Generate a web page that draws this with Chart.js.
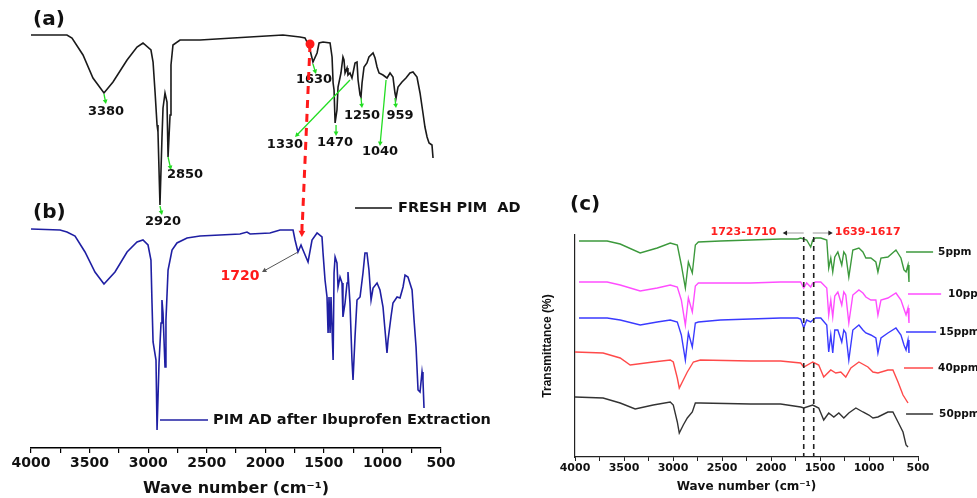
<!DOCTYPE html>
<html>
<head>
<meta charset="utf-8">
<script src="https://cdn.jsdelivr.net/npm/chart.js@4.4.0/dist/chart.umd.min.js"></script>
<style>
html, body { margin: 0; padding: 0; background: #fff; }
#wrap { position: relative; width: 977px; height: 498px; overflow: hidden; }
#left { position: absolute; left: 0; top: 0; }
#right { position: absolute; left: 480px; top: 0; }
</style>
</head>
<body>
<div id="wrap">
  <canvas id="left" width="560" height="498"></canvas>
  <canvas id="right" width="497" height="498"></canvas>
</div>
<script>
// (a) fresh PIM AD
const waveA = [4000, 3693, 3650, 3556, 3471, 3377, 3300, 3180, 3095, 3044, 2976, 2958, 2941, 2924, 2916, 2899, 2882, 2873, 2856, 2839, 2830, 2813, 2805, 2788, 2728, 2557, 2276, 1849, 1704, 1661, 1644, 1618, 1593, 1558, 1541, 1507, 1447, 1430, 1421, 1413, 1404, 1388, 1379, 1354, 1337, 1328, 1319, 1302, 1294, 1277, 1260, 1251, 1234, 1217, 1208, 1191, 1183, 1174, 1157, 1132, 1115, 1080, 1063, 1046, 1029, 995, 961, 935, 910, 893, 884, 867, 833, 799, 765, 739, 705, 679, 654, 637, 619, 602, 577, 568];
const transA = [103.25, 103.25, 102.5, 98.25, 92.5, 88.75, 91.5, 97, 100.25, 101.25, 99.5, 96.5, 89, 80.75, 79, 60.75, 77.5, 85, 88.75, 86.5, 72.75, 83.25, 95.75, 100.75, 102, 102, 102.5, 103.25, 102.75, 102.5, 101.5, 99.5, 96.5, 98.75, 101.25, 101.5, 101.25, 97.75, 91.25, 89.5, 81.25, 84.5, 90.25, 93.75, 97.75, 97, 93.75, 95, 93.25, 93.75, 92.5, 93.75, 96.25, 96.5, 92, 88.25, 87.75, 91.25, 95.25, 96.25, 97.75, 98.75, 97.5, 95.25, 93.75, 93.25, 92.5, 93.75, 92.75, 88.75, 87.5, 90.25, 91.5, 92.5, 93.75, 94, 92.75, 88.75, 83.75, 80.25, 77.75, 76.25, 75.75, 72.5];

// (b) PIM AD after ibuprofen extraction
const waveB = [4000, 3752, 3693, 3624, 3539, 3454, 3377, 3283, 3180, 3095, 3044, 3001, 2976, 2967, 2958, 2933, 2924, 2907, 2890, 2882, 2873, 2856, 2848, 2830, 2796, 2754, 2668, 2557, 2216, 2156, 2130, 1960, 1874, 1763, 1746, 1721, 1695, 1678, 1635, 1601, 1558, 1516, 1507, 1490, 1473, 1464, 1456, 1447, 1439, 1421, 1413, 1404, 1388, 1379, 1362, 1345, 1337, 1319, 1302, 1294, 1277, 1260, 1251, 1234, 1217, 1191, 1166, 1149, 1132, 1115, 1097, 1080, 1046, 1021, 995, 978, 961, 952, 927, 910, 875, 850, 824, 807, 782, 747, 730, 713, 696, 679, 662, 654, 645];
const transB = [54.75, 54.5, 54, 53, 49, 44, 41, 44, 49, 51.5, 52, 50.75, 47, 36.25, 26.5, 22, 4.5, 21.25, 31.25, 37, 33.75, 20.25, 32, 44.5, 49.5, 51.25, 52.5, 53, 53.5, 54, 53.5, 53.75, 54.5, 54.5, 52, 49, 50.75, 49.5, 46.5, 52, 53.75, 52.75, 48.75, 42, 37.75, 28.75, 37.75, 28.75, 37.75, 22, 43.75, 47.75, 46.25, 40.25, 42.75, 41.25, 32.75, 36.25, 41.25, 44, 36.25, 22, 17, 27.75, 37, 37.75, 43.75, 48.75, 48.75, 44.5, 37, 40, 41.25, 39.5, 35.25, 29.5, 23.75, 27, 32.75, 36.25, 37.75, 37.5, 40.25, 43.25, 42.75, 39.5, 32, 25.25, 14.5, 14, 19, 17, 10];

// (c) spectra after contact with 5-50 ppm
const waveLow = [3959, 3672, 3539, 3335, 3161, 3028, 2956, 2915, 2874, 2843, 2803, 2772, 2741, 2516, 2209, 1902, 1728, 1697, 1666, 1636, 1595, 1574, 1544, 1492, 1431, 1411, 1390, 1370, 1349, 1318, 1278, 1257, 1237, 1206, 1165, 1103, 1062, 1032, 981, 930, 909, 878, 807, 725, 674, 643, 622, 602, 592];
const trans5 = [108, 108, 106.5, 102, 104.5, 107, 106, 96, 84.5, 97.5, 92, 106, 107.5, 108, 108.5, 109, 109, 109.5, 109, 108.5, 105, 108.5, 109.5, 109.5, 108.5, 94.5, 99.5, 92.5, 100, 102.5, 96, 102.5, 101, 90, 103.5, 104.5, 102.5, 99.5, 99.5, 97.5, 92.5, 99.5, 100, 103.5, 99.5, 93.5, 92.5, 96, 87.5];
const trans10 = [87.5, 87.5, 86, 83, 84.5, 86, 85, 78.5, 66, 79.5, 72.5, 85.5, 87, 87, 87, 87.5, 87.5, 87.5, 84.5, 87, 85, 87, 87.5, 87.5, 84.5, 71, 78.5, 70, 80.5, 82.5, 76, 82.5, 81, 67, 81, 83.5, 82, 80, 78.5, 78.5, 71, 78.5, 79.5, 82, 78.5, 74, 71, 74.5, 67];
const trans15 = [69.5, 69.5, 68.5, 66, 67.5, 68.5, 67.5, 61, 48.5, 62, 55, 67, 67.5, 68.5, 69, 69.5, 69.5, 69, 64.5, 68.5, 67.5, 68.5, 69.5, 69.5, 66, 52.5, 61, 52, 63.5, 63.5, 57.5, 63.5, 62, 48.5, 63.5, 66, 63.5, 62, 61, 59.5, 52, 59.5, 62, 64.5, 61, 56, 53.5, 58.5, 52];
const wave40 = [4000, 3713, 3539, 3437, 3202, 3028, 2997, 2956, 2936, 2895, 2854, 2792, 2721, 2209, 1902, 1697, 1666, 1574, 1513, 1462, 1390, 1339, 1288, 1237, 1185, 1103, 1011, 960, 909, 807, 756, 704, 653, 602];
const trans40 = [52.5, 52, 49.5, 46, 47.5, 48.5, 47.5, 39.5, 34.5, 38.5, 42.5, 47.5, 48.5, 48, 48, 47, 45, 47.5, 46, 40, 43.5, 42, 42.5, 40, 44.5, 47.5, 45, 42.5, 42, 43.5, 43.5, 37.5, 31, 27];
const wave50 = [4000, 3713, 3539, 3386, 3202, 3028, 2997, 2956, 2936, 2895, 2854, 2803, 2772, 2721, 2209, 1902, 1697, 1666, 1574, 1513, 1462, 1411, 1359, 1308, 1257, 1206, 1134, 1062, 1001, 960, 909, 807, 756, 704, 653, 622, 602];
const trans50 = [30, 29.5, 27, 24, 26, 27.5, 26, 17.5, 12, 16, 19.5, 22.5, 27, 27, 26.5, 26.5, 25, 24.5, 26, 24.5, 18.5, 22, 20, 22, 19.5, 22, 24.5, 22.5, 21, 19.5, 20, 22.5, 22.5, 17.5, 12.5, 6, 5];

const concLabels = ['5ppm', '10ppm', '15ppm', '40ppm', '50ppm'];
const concColors = ['#3c993c', '#ff4dff', '#3a3aff', '#ff4a4a', '#333333'];
const peakLabelsA = ['3380', '2920', '2850', '1630', '1330', '1470', '1250', '959', '1040'];

const FONT = '"DejaVu Sans", sans-serif';

function pts(xs, ys) {
    return xs.map((x, i) => ({ x: x, y: ys[i] }));
}

function arrow(ctx, a, b, color, lw, head) {
    const ang = Math.atan2(b[1] - a[1], b[0] - a[0]);
    ctx.save();
    ctx.strokeStyle = color;
    ctx.fillStyle = color;
    ctx.lineWidth = lw;
    ctx.beginPath();
    ctx.moveTo(a[0], a[1]);
    ctx.lineTo(b[0] - Math.cos(ang) * head * 0.7, b[1] - Math.sin(ang) * head * 0.7);
    ctx.stroke();
    ctx.beginPath();
    ctx.moveTo(b[0], b[1]);
    ctx.lineTo(b[0] - head * Math.cos(ang - 0.5), b[1] - head * Math.sin(ang - 0.5));
    ctx.lineTo(b[0] - head * Math.cos(ang + 0.5), b[1] - head * Math.sin(ang + 0.5));
    ctx.closePath();
    ctx.fill();
    ctx.restore();
}

function label(ctx, str, p, color, size, align) {
    ctx.save();
    ctx.fillStyle = color;
    ctx.font = 'bold ' + size + 'px ' + FONT;
    ctx.textAlign = align || 'center';
    ctx.textBaseline = 'middle';
    ctx.fillText(str, p[0], p[1]);
    ctx.restore();
}

function line(ctx, a, b, color, lw, dash) {
    ctx.save();
    ctx.strokeStyle = color;
    ctx.lineWidth = lw;
    if (dash) ctx.setLineDash(dash);
    ctx.beginPath();
    ctx.moveTo(a[0], a[1]);
    ctx.lineTo(b[0], b[1]);
    ctx.stroke();
    ctx.restore();
}

// peak markers for (a): arrow from the band down to its number
const peakMarksA = [
    { from: [3377, 88.5], to: [3360, 86], at: [3360, 84] },
    { from: [2899, 60.5], to: [2882, 58.25], at: [2873, 56.5] },
    { from: [2830, 72.75], to: [2805, 69.5], at: [2685, 68.25] },
    { from: [1593, 96], to: [1567, 93.5], at: [1584, 92] },
    { from: [1277, 92], to: [1746, 77.75], at: [1832, 75.75] },
    { from: [1396, 80.75], to: [1396, 78], at: [1405, 76.25] },
    { from: [1183, 87.5], to: [1174, 85], at: [1174, 83] },
    { from: [893, 87.5], to: [884, 85], at: [850, 83] },
    { from: [969, 92], to: [1021, 75.5], at: [1021, 74] }
];

const leftNotes = {
    id: 'leftNotes',
    afterDatasetsDraw(chart) {
        const ctx = chart.ctx;
        const x = chart.scales.x, y = chart.scales.y;
        const P = (w, t) => [x.getPixelForValue(w), y.getPixelForValue(t)];

        label(ctx, '(a)', P(3983, 107), '#111', 20, 'left');
        label(ctx, '(b)', P(3983, 58.75), '#111', 20, 'left');

        peakMarksA.forEach((m, i) => {
            arrow(ctx, P(m.from[0], m.from[1]), P(m.to[0], m.to[1]), '#22dd22', 1.3, 5);
            label(ctx, peakLabelsA[i], P(m.at[0], m.at[1]), '#111', 13);
        });

        // shift of the carbonyl band between (a) and (b)
        line(ctx, P(1618, 101), P(1684, 56), '#ff1a1a', 3, [8, 6]);
        arrow(ctx, P(1686, 56), P(1688, 52.75), '#ff1a1a', 3, 7);
        const dot = P(1618, 101);
        ctx.save();
        ctx.fillStyle = '#ff1a1a';
        ctx.beginPath();
        ctx.arc(dot[0], dot[1], 4.5, 0, Math.PI * 2);
        ctx.fill();
        ctx.restore();

        arrow(ctx, P(1721, 49), P(2028, 44), '#555', 1, 5);
        label(ctx, '1720', P(2216, 43), '#ff1a1a', 14);

        line(ctx, P(1234, 60), P(918, 60), '#111', 1.5);
        label(ctx, 'FRESH PIM  AD', P(867, 60), '#111', 14.5, 'left');
        line(ctx, P(2899, 7), P(2489, 7), '#1f1fa3', 1.5);
        label(ctx, 'PIM AD after Ibuprofen Extraction', P(2446, 7), '#111', 14.5, 'left');
    }
};

const legendC = [
    { from: 622, to: 346, y: 102.5, text: 295 },
    { from: 602, to: 264, y: 81.5, text: 193 },
    { from: 622, to: 315, y: 62.5, text: 285 },
    { from: 643, to: 346, y: 44.5, text: 295 },
    { from: 622, to: 346, y: 21.5, text: 285 }
];

const rightNotes = {
    id: 'rightNotes',
    afterDatasetsDraw(chart) {
        const ctx = chart.ctx;
        const x = chart.scales.x, y = chart.scales.y;
        const P = (w, t) => [x.getPixelForValue(w), y.getPixelForValue(t)];

        label(ctx, '(c)', P(4051, 126), '#111', 20, 'left');

        line(ctx, P(1666, 110), P(1666, 0), '#222', 1.6, [5, 4]);
        line(ctx, P(1564, 110), P(1564, 0), '#222', 1.6, [5, 4]);

        line(ctx, P(1666, 112), P(1860, 112), '#999', 1);
        arrow(ctx, P(1840, 112), P(1881, 112), '#222', 1, 5);
        label(ctx, '1723-1710', P(2281, 112.5), '#ff2020', 11);
        line(ctx, P(1574, 112), P(1395, 112), '#999', 1);
        arrow(ctx, P(1410, 112), P(1370, 112), '#222', 1, 5);
        label(ctx, '1639-1617', P(1349, 112.5), '#ff2020', 11, 'left');

        legendC.forEach((e, i) => {
            line(ctx, P(e.from, e.y), P(e.to, e.y), concColors[i], 1.5);
            label(ctx, concLabels[i], P(e.text, e.y), '#111', 10.5, 'left');
        });
    }
};

const leftChart = new Chart(document.getElementById('left'), {
    type: 'line',
    data: {
        datasets: [
            { data: pts(waveA, transA), borderColor: '#1a1a1a', borderWidth: 1.6, pointRadius: 0, tension: 0 },
            { data: pts(waveB, transB), borderColor: '#1f1fa3', borderWidth: 1.6, pointRadius: 0, tension: 0 }
        ]
    },
    options: {
        responsive: false,
        animation: false,
        events: [],
        layout: { padding: { left: 31, right: 119, top: 20, bottom: 0 } },
        plugins: { legend: { display: false }, tooltip: { enabled: false } },
        scales: {
            x: {
                type: 'linear',
                reverse: true,
                min: 500,
                max: 4000,
                afterFit: (s) => { s.height = 50; },
                border: { color: '#000', width: 1.5 },
                grid: { drawOnChartArea: false, tickLength: 5, color: '#000', lineWidth: 1.2 },
                ticks: {
                    stepSize: 250,
                    autoSkip: false,
                    maxRotation: 0,
                    padding: 2,
                    color: '#111',
                    font: { family: FONT, size: 14, weight: 'bold' },
                    callback: (v) => (v % 500 === 0 ? v : '')
                },
                title: {
                    display: true,
                    text: 'Wave number (cm⁻¹)',
                    color: '#111',
                    padding: 0,
                    font: { family: FONT, size: 16, weight: 'bold' }
                }
            },
            y: { display: false, min: 0, max: 107 }
        }
    },
    plugins: [leftNotes]
});

const rightSeries = [
    pts(waveLow, trans5),
    pts(waveLow, trans10),
    pts(waveLow, trans15),
    pts(wave40, trans40),
    pts(wave50, trans50)
];

const rightChart = new Chart(document.getElementById('right'), {
    type: 'line',
    data: {
        datasets: rightSeries.map((d, i) => ({
            label: concLabels[i],
            data: d,
            borderColor: concColors[i],
            borderWidth: 1.4,
            pointRadius: 0,
            tension: 0
        }))
    },
    options: {
        responsive: false,
        animation: false,
        events: [],
        layout: { padding: { left: 56, right: 59, top: 235, bottom: 0 } },
        plugins: { legend: { display: false }, tooltip: { enabled: false } },
        scales: {
            x: {
                type: 'linear',
                reverse: true,
                min: 500,
                max: 4000,
                afterFit: (s) => { s.height = 41; },
                border: { color: '#222', width: 1.2 },
                grid: { drawOnChartArea: false, tickLength: 4, color: '#222', lineWidth: 1 },
                ticks: {
                    stepSize: 250,
                    autoSkip: false,
                    maxRotation: 0,
                    padding: 1,
                    color: '#111',
                    font: { family: FONT, size: 11, weight: 'bold' },
                    callback: (v) => (v % 500 === 0 ? v : '')
                },
                title: {
                    display: true,
                    text: 'Wave number (cm⁻¹)',
                    color: '#111',
                    padding: { top: 0, bottom: 4 },
                    font: { family: FONT, size: 12, weight: 'bold' }
                }
            },
            y: {
                min: 0,
                max: 111,
                afterFit: (s) => { s.width = 39; },
                border: { display: true, color: '#222', width: 1.2 },
                grid: { drawOnChartArea: false, drawTicks: false },
                ticks: { display: false },
                title: {
                    display: true,
                    text: 'Transmittance (%)',
                    color: '#111',
                    font: { family: '"Liberation Sans", Arial, sans-serif', size: 12, weight: 'bold' }
                }
            }
        }
    },
    plugins: [rightNotes]
});
</script>
</body>
</html>
